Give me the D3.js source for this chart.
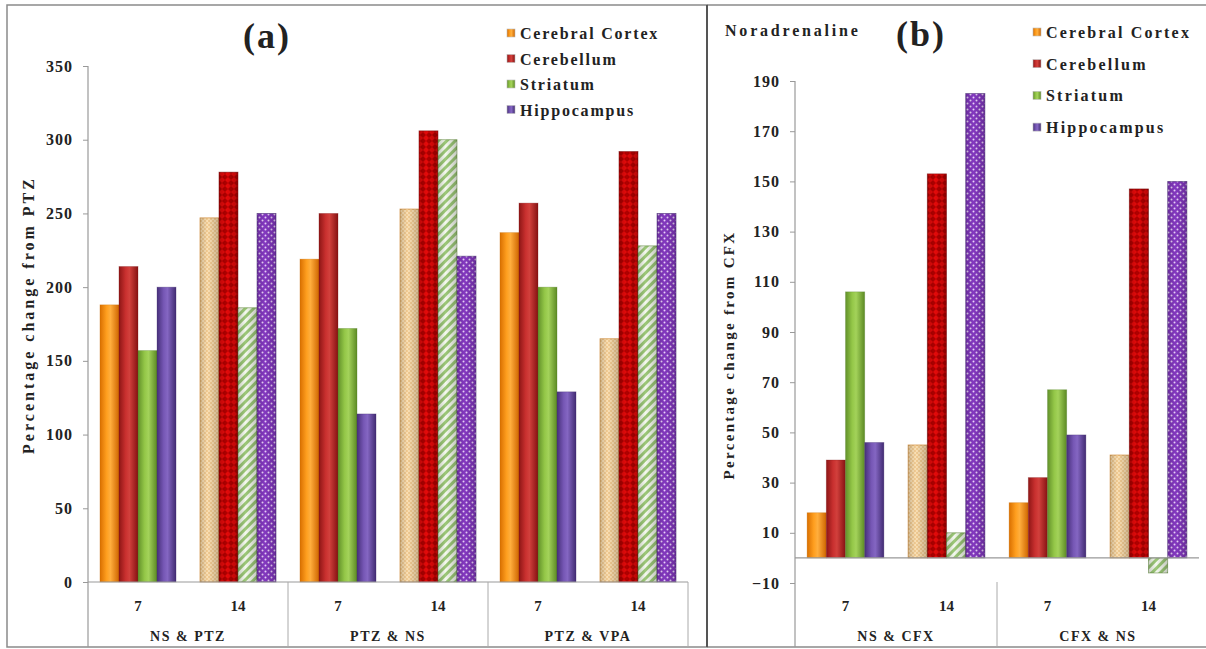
<!DOCTYPE html>
<html>
<head>
<meta charset="utf-8">
<script src="https://cdn.jsdelivr.net/npm/d3@7"></script>
<style>
  body { margin: 0; background: #fff; }
  svg text { font-family: 'Liberation Serif', 'Times New Roman', serif; font-weight: bold; fill: #222; }
</style>
</head>
<body>
<div id="app"></div>
<script>
const series = ['Cerebral Cortex', 'Cerebellum', 'Striatum', 'Hippocampus']
const days = ['7', '14']
const groups_a = ['NS & PTZ', 'PTZ & NS', 'PTZ & VPA']
const groups_b = ['NS & CFX', 'CFX & NS']

// one value per group and day (7 then 14)
const cortex_a = [188, 247, 219, 253, 237, 165]
const cerebellum_a = [214, 278, 250, 306, 257, 292]
const striatum_a = [157, 186, 172, 300, 200, 228]
const hippocampus_a = [200, 250, 114, 221, 129, 250]

const cortex_b = [18, 45, 22, 41]
const cerebellum_b = [39, 153, 32, 147]
const striatum_b = [106, 10, 67, -6]
const hippocampus_b = [46, 185, 49, 150]

const ticks_a = [0, 50, 100, 150, 200, 250, 300, 350]
const ticks_b = [-10, 10, 30, 50, 70, 90, 110, 130, 150, 170, 190]

const W = 1206, H = 649

const svg = d3.select('#app').append('svg')
  .attr('width', W).attr('height', H)
  .attr('viewBox', [0, 0, W, H])

const defs = svg.append('defs')

// cylinder-like shading for the 7 day bars
const solid = [
  ['#d96f00', '#ff9f1f', '#ffae3d', '#cf6600'],
  ['#8e1616', '#c9302f', '#d2403c', '#861212'],
  ['#62912a', '#94c748', '#a3d25a', '#5c8a24'],
  ['#47307a', '#7657b5', '#8466c2', '#412b72']
]
solid.forEach((c, i) => {
  const g = defs.append('linearGradient').attr('id', 'solid' + i)
  g.append('stop').attr('offset', '0%').attr('stop-color', c[0])
  g.append('stop').attr('offset', '35%').attr('stop-color', c[1])
  g.append('stop').attr('offset', '55%').attr('stop-color', c[2])
  g.append('stop').attr('offset', '100%').attr('stop-color', c[3])
})

// patterns for the 14 day bars
const p0 = defs.append('pattern').attr('id', 'pat0').attr('patternUnits', 'userSpaceOnUse').attr('width', 4).attr('height', 4)
p0.append('rect').attr('width', 4).attr('height', 4).attr('fill', '#fbe0b4')
p0.append('circle').attr('cx', 1).attr('cy', 1).attr('r', 0.8).attr('fill', '#e6b16a')
p0.append('circle').attr('cx', 3).attr('cy', 3).attr('r', 0.8).attr('fill', '#e6b16a')

const p1 = defs.append('pattern').attr('id', 'pat1').attr('patternUnits', 'userSpaceOnUse').attr('width', 6).attr('height', 6)
p1.append('rect').attr('width', 6).attr('height', 6).attr('fill', '#e40a0a')
p1.append('path').attr('d', 'M3,0 L6,3 L3,6 L0,3 Z').attr('fill', '#b00000')

const p2 = defs.append('pattern').attr('id', 'pat2').attr('patternUnits', 'userSpaceOnUse').attr('width', 6).attr('height', 6)
  .attr('patternTransform', 'rotate(45)')
p2.append('rect').attr('width', 6).attr('height', 6).attr('fill', '#f4f9ee')
p2.append('rect').attr('width', 3).attr('height', 6).attr('fill', '#9cc878')

const p3 = defs.append('pattern').attr('id', 'pat3').attr('patternUnits', 'userSpaceOnUse').attr('width', 6).attr('height', 6)
p3.append('rect').attr('width', 6).attr('height', 6).attr('fill', '#8338c0')
p3.append('circle').attr('cx', 1.5).attr('cy', 1.5).attr('r', 1).attr('fill', '#ead2fa')
p3.append('circle').attr('cx', 4.5).attr('cy', 4.5).attr('r', 1).attr('fill', '#ead2fa')

const edge = ['#c46a00', '#7a1010', '#4f7a28', '#3f2a6a']
const shade = defs.append('linearGradient').attr('id', 'shade')
shade.append('stop').attr('offset', '0%').attr('stop-color', '#000').attr('stop-opacity', 0.18)
shade.append('stop').attr('offset', '40%').attr('stop-color', '#000').attr('stop-opacity', 0)
shade.append('stop').attr('offset', '100%').attr('stop-color', '#000').attr('stop-opacity', 0.2)

// frames
const frame = svg.append('g').attr('fill', 'none')
frame.append('rect').attr('x', 7).attr('y', 5).attr('width', 700).attr('height', 642)
  .attr('stroke', '#8a8a8a').attr('stroke-width', 1.5)
frame.append('path').attr('d', 'M707,5 H1206 M707,647 H1206').attr('stroke', '#8a8a8a').attr('stroke-width', 1.5)
frame.append('line').attr('x1', 707).attr('x2', 707).attr('y1', 5).attr('y2', 647)
  .attr('stroke', '#555').attr('stroke-width', 2)

function drawPanel(cfg) {
  const g = svg.append('g')
  const keys = []
  cfg.groups.forEach(gr => days.forEach(d => keys.push(gr + '|' + d)))

  const x0 = d3.scaleBand().domain(keys).range([cfg.left, cfg.right])
  const x1 = d3.scaleBand().domain(series).range([0, x0.bandwidth()]).paddingInner(0).paddingOuter(0.63)
  const y = d3.scaleLinear().domain(cfg.domain).range(cfg.yrange)

  const rows = []
  keys.forEach((k, ki) => {
    cfg.values.forEach((vals, si) => {
      rows.push({ key: k, day: k.split('|')[1], s: series[si], si: si, v: vals[ki] })
    })
  })

  // y axis
  const ax = g.append('g').attr('transform', `translate(${cfg.left},0)`)
    .call(d3.axisLeft(y).tickValues(cfg.ticks).tickSize(5).tickPadding(10).tickSizeOuter(0))
  ax.select('.domain').remove()
  ax.selectAll('line').attr('stroke', '#999')
  ax.selectAll('text').attr('font-size', 16).attr('letter-spacing', '1px').attr('fill', '#333')
    .style('font-family', "'Liberation Serif', serif").style('font-weight', 'bold')
  g.append('line').attr('x1', cfg.left).attr('x2', cfg.left)
    .attr('y1', y(cfg.domain[1])).attr('y2', 647).attr('stroke', '#999').attr('stroke-width', 1.2)

  // bars
  g.append('g').selectAll('rect').data(rows).join('rect')
    .attr('x', d => x0(d.key) + x1(d.s))
    .attr('width', x1.bandwidth())
    .attr('y', d => y(Math.max(0, d.v)))
    .attr('height', d => Math.abs(y(d.v) - y(0)))
    .attr('fill', d => d.day === '7' ? `url(#solid${d.si})` : `url(#pat${d.si})`)
    .attr('stroke', d => edge[d.si]).attr('stroke-opacity', d => d.day === '7' ? 0.35 : 0.6)
    .attr('stroke-width', 0.8)
  g.append('g').selectAll('rect').data(rows.filter(d => d.day === '14')).join('rect')
    .attr('x', d => x0(d.key) + x1(d.s))
    .attr('width', x1.bandwidth())
    .attr('y', d => y(Math.max(0, d.v)))
    .attr('height', d => Math.abs(y(d.v) - y(0)))
    .attr('fill', 'url(#shade)')

  // category axis
  g.append('line').attr('x1', cfg.left).attr('x2', cfg.right)
    .attr('y1', y(0)).attr('y2', y(0)).attr('stroke', '#999').attr('stroke-width', 1.2)
  const seps = cfg.groups.map((gr, i) => cfg.left + (i + 1) * x0.step() * 2).filter(v => v < cfg.right || cfg.closeRight)
  g.append('g').selectAll('line').data(seps).join('line')
    .attr('x1', d => d).attr('x2', d => d)
    .attr('y1', cfg.sepTop).attr('y2', 647).attr('stroke', '#aaa')

  g.append('g').selectAll('text').data(keys).join('text')
    .attr('x', d => x0(d) + x0.bandwidth() / 2).attr('y', 611)
    .attr('text-anchor', 'middle').attr('font-size', 15)
    .text(d => d.split('|')[1])
  g.append('g').selectAll('text').data(cfg.groups).join('text')
    .attr('x', d => x0(d + '|7') + x0.step())
    .attr('y', 641).attr('text-anchor', 'middle').attr('font-size', 14).attr('letter-spacing', '1.5px')
    .text(d => d)

  // y title
  g.append('text')
    .attr('transform', `translate(${cfg.titleX},${cfg.titleY}) rotate(-90)`)
    .attr('text-anchor', 'middle').attr('font-size', cfg.titleSize).attr('letter-spacing', cfg.titleSpacing)
    .text(cfg.title)

  // legend
  const lg = g.append('g').selectAll('g').data(series).join('g')
    .attr('transform', (d, i) => `translate(${cfg.legX},${cfg.legY + i * cfg.legStep})`)
  lg.append('rect').attr('x', 0).attr('y', -10).attr('width', 8).attr('height', 8)
    .attr('fill', (d, i) => `url(#solid${i})`).attr('stroke', '#bbb').attr('stroke-width', 0.6)
  lg.append('text').attr('x', 13).attr('y', 0).attr('font-size', 16).attr('letter-spacing', cfg.legSpacing)
    .text(d => d)
}

drawPanel({
  groups: groups_a,
  values: [cortex_a, cerebellum_a, striatum_a, hippocampus_a],
  left: 88, right: 688, domain: [0, 350], yrange: [582, 66], ticks: ticks_a,
  sepTop: 582, closeRight: true,
  title: 'Percentage change from PTZ', titleX: 34, titleY: 315, titleSize: 16, titleSpacing: '3px',
  legX: 507, legY: 39, legStep: 25.5, legSpacing: '1.8px'
})

drawPanel({
  groups: groups_b,
  values: [cortex_b, cerebellum_b, striatum_b, hippocampus_b],
  left: 795, right: 1199, domain: [-10, 190], yrange: [583, 81], ticks: ticks_b,
  sepTop: 582, closeRight: false,
  title: 'Percentage change from CFX', titleX: 734, titleY: 355, titleSize: 15, titleSpacing: '2.3px',
  legX: 1033, legY: 38, legStep: 31.7, legSpacing: '2.2px'
})

// panel titles
svg.append('text').attr('x', 267).attr('y', 48).attr('text-anchor', 'middle')
  .attr('font-size', 36).attr('letter-spacing', '2px').text('(a)')
svg.append('text').attr('x', 921).attr('y', 46).attr('text-anchor', 'middle')
  .attr('font-size', 36).attr('letter-spacing', '2px').text('(b)')
svg.append('text').attr('x', 725).attr('y', 36)
  .attr('font-size', 16).attr('letter-spacing', '2.8px').text('Noradrenaline')
</script>
</body>
</html>
